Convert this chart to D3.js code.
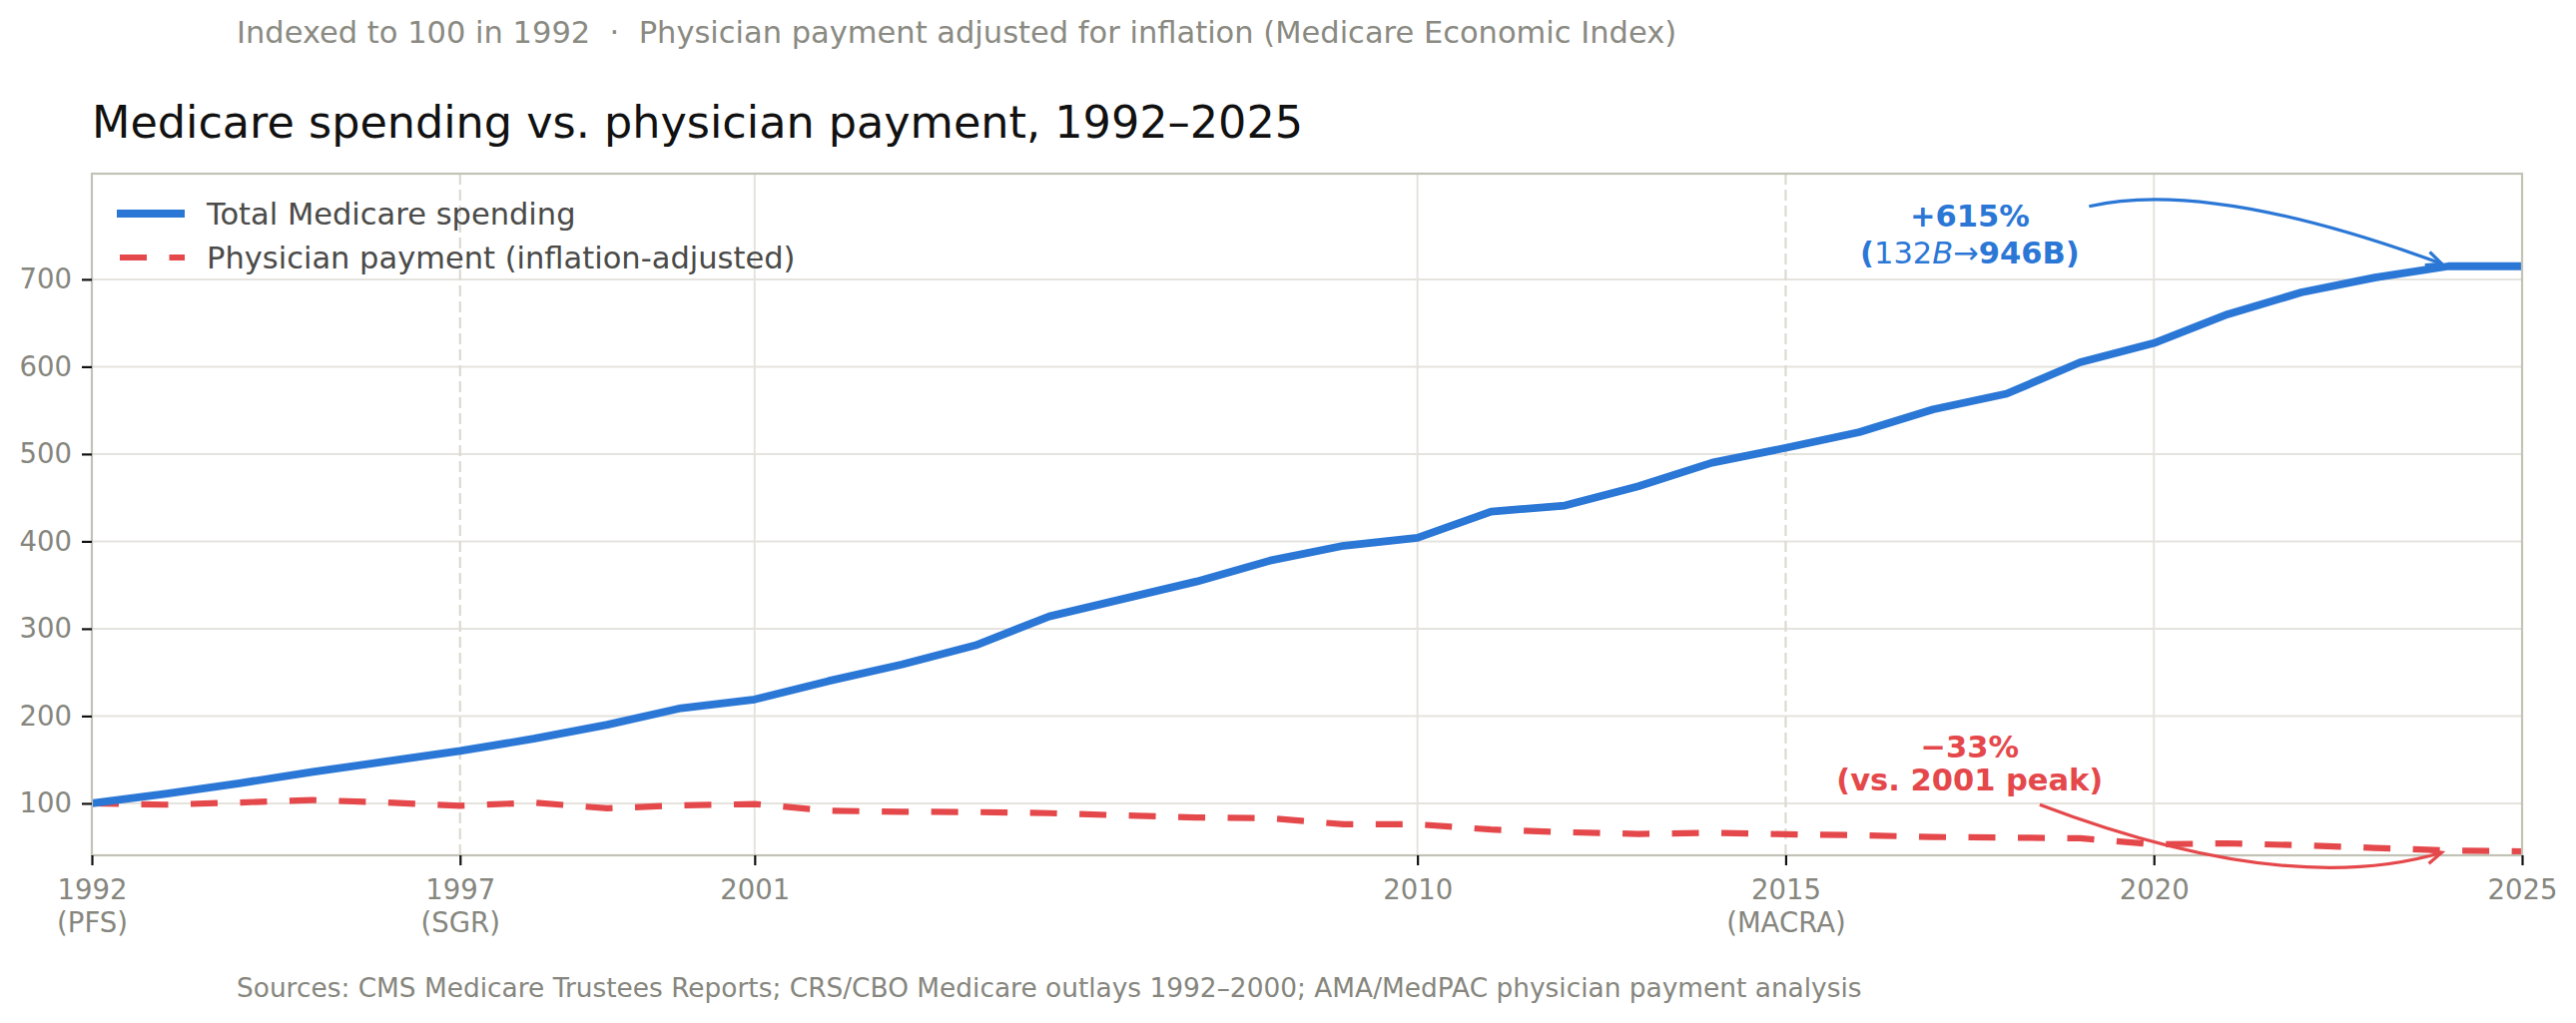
<!DOCTYPE html>
<html>
<head>
<meta charset="utf-8">
<script src="https://cdn.jsdelivr.net/npm/d3@7"></script>
<style>
  html, body { margin: 0; padding: 0; background: #ffffff; }
  svg { display: block; font-family: "DejaVu Sans", sans-serif; }
</style>
</head>
<body>
<svg id="chart" width="2580" height="1025"></svg>
<script>
// ---- Data ----
const years = d3.range(1992, 2026);
const totalSpending = [100, 111, 123, 136, 148, 160, 174, 190, 209, 219,
  240, 259, 281, 314, 334, 354, 378, 395, 404, 434,
  441, 463, 490, 507, 525, 551, 569, 605, 627, 660,
  685, 702, 715, 715];
const physicianPay = [100, 98.5, 101, 103.8, 101, 97.3, 100.8, 94.3, 97.7, 99.2,
  91.6, 90.4, 90, 88.8, 86.2, 83.8, 83, 76, 76, 70,
  67, 65, 66.2, 64.6, 63.5, 61.5, 60.8, 60, 53, 54.2,
  52, 49, 46, 45];
const seriesNames = ["Total Medicare spending", "Physician payment (inflation-adjusted)"];
const xTickYears = [1992, 1997, 2001, 2010, 2015, 2020, 2025];
const xTickNotes = ["(PFS)", "(SGR)", "", "", "(MACRA)", "", ""];
const policyYears = [1997, 2015];
const yTicks = [100, 200, 300, 400, 500, 600, 700];
const titleText = "Medicare spending vs. physician payment, 1992\u20132025";
const subtitleText = "Indexed to 100 in 1992  \u00b7  Physician payment adjusted for inflation (Medicare Economic Index)";
const sourceText = "Sources: CMS Medicare Trustees Reports; CRS/CBO Medicare outlays 1992\u20132000; AMA/MedPAC physician payment analysis";

// ---- Layout ----
const W = 2580, H = 1025;
const m = { left: 92, right: 2526, top: 174, bottom: 857 };
const BLUE = "#2b77d6", RED = "#e5484b";
const svg = d3.select("#chart");

const x = d3.scaleLinear().domain([1992, 2025]).range([m.left, m.right]);
const y = d3.scaleLinear().domain([40.5, 821]).range([m.bottom, m.top]);

// Grid
const grid = svg.append("g");
grid.selectAll("line.hg").data(yTicks).join("line")
  .attr("x1", m.left).attr("x2", m.right)
  .attr("y1", d => y(d)).attr("y2", d => y(d))
  .attr("stroke", "#e5e3dd").attr("stroke-width", 2);
grid.selectAll("line.vg").data(xTickYears.filter(d => !policyYears.includes(d))).join("line")
  .attr("x1", d => x(d)).attr("x2", d => x(d))
  .attr("y1", m.top).attr("y2", m.bottom)
  .attr("stroke", "#e5e3dd").attr("stroke-width", 2);
grid.selectAll("line.pol").data(policyYears).join("line")
  .attr("x1", d => x(d)).attr("x2", d => x(d))
  .attr("y1", m.top).attr("y2", m.bottom)
  .attr("stroke", "#dcdad0").attr("stroke-width", 2.2)
  .attr("stroke-dasharray", "11,5");

// Lines
const line = d3.line().x((d, i) => x(years[i])).y(d => y(d));
svg.append("path").datum(physicianPay)
  .attr("d", line).attr("fill", "none")
  .attr("stroke", RED).attr("stroke-width", 6.2)
  .attr("stroke-dasharray", "27,22.5");
svg.append("path").datum(totalSpending)
  .attr("d", line).attr("fill", "none")
  .attr("stroke", BLUE).attr("stroke-width", 7.8)
  .attr("stroke-linejoin", "round");

// Spines
svg.append("rect")
  .attr("x", m.left).attr("y", m.top)
  .attr("width", m.right - m.left).attr("height", m.bottom - m.top)
  .attr("fill", "none").attr("stroke", "#c2c2b6").attr("stroke-width", 2.2);

// Axes
const xAxis = svg.append("g").attr("transform", `translate(0,${m.bottom})`)
  .call(d3.axisBottom(x).tickValues(xTickYears).tickFormat(d3.format("d"))
    .tickSize(10).tickPadding(14));
xAxis.select(".domain").remove();
xAxis.selectAll(".tick line").attr("stroke", "#111").attr("stroke-width", 2.2);
xAxis.selectAll(".tick text")
  .attr("fill", "#86867e").attr("font-size", 27.5)
  .attr("font-family", "DejaVu Sans")
  .each(function(d, i) {
    const t = d3.select(this);
    const note = xTickNotes[xTickYears.indexOf(d)];
    t.text(null);
    t.append("tspan").attr("x", 0).attr("dy", "0.71em").text(d);
    if (note) t.append("tspan").attr("x", 0).attr("dy", "1.2em").text(note);
  })
  .attr("dy", null);

const yAxis = svg.append("g").attr("transform", `translate(${m.left},0)`)
  .call(d3.axisLeft(y).tickValues(yTicks).tickFormat(d3.format("d"))
    .tickSize(10).tickPadding(10));
yAxis.select(".domain").remove();
yAxis.selectAll(".tick line").attr("stroke", "#111").attr("stroke-width", 2.2);
yAxis.selectAll(".tick text")
  .attr("fill", "#86867e").attr("font-size", 27.5)
  .attr("font-family", "DejaVu Sans");

// Title & subtitle & source
svg.append("text").attr("x", 237).attr("y", 43)
  .attr("font-size", 30.5).attr("fill", "#8a8a82")
  .attr("xml:space", "preserve").style("white-space", "pre")
  .text(subtitleText);
svg.append("text").attr("x", 92).attr("y", 138)
  .attr("font-size", 44.5).attr("fill", "#111")
  .text(titleText);
svg.append("text").attr("x", 237).attr("y", 999)
  .attr("font-size", 26.4).attr("fill", "#86867e")
  .text(sourceText);

// Legend
const legend = svg.append("g");
const legRows = [214, 258];
legend.append("line").attr("x1", 117).attr("x2", 185)
  .attr("y1", legRows[0]).attr("y2", legRows[0])
  .attr("stroke", BLUE).attr("stroke-width", 7.8);
legend.append("line").attr("x1", 120).attr("x2", 185)
  .attr("y1", legRows[1]).attr("y2", legRows[1])
  .attr("stroke", RED).attr("stroke-width", 6.2)
  .attr("stroke-dasharray", "27,22.5");
legend.selectAll("text").data(seriesNames).join("text")
  .attr("x", 207).attr("y", (d, i) => legRows[i])
  .attr("dy", "0.36em")
  .attr("font-size", 30.5).attr("fill", "#4a4a48")
  .text(d => d);

// Annotations
function arrow(g, p0, c, target, color, shrink) {
  const dx = target[0] - c[0], dy = target[1] - c[1];
  const len = Math.hypot(dx, dy);
  const ux = dx / len, uy = dy / len;
  const end = [target[0] - ux * shrink, target[1] - uy * shrink];
  const p = d3.path();
  p.moveTo(p0[0], p0[1]);
  p.quadraticCurveTo(c[0], c[1], end[0], end[1]);
  g.append("path").attr("d", p.toString()).attr("fill", "none")
    .attr("stroke", color).attr("stroke-width", 3.2);
  const ang = Math.atan2(end[1] - c[1], end[0] - c[0]);
  const hl = 17, ha = 0.42;
  const h = d3.path();
  h.moveTo(end[0] - hl * Math.cos(ang - ha), end[1] - hl * Math.sin(ang - ha));
  h.lineTo(end[0], end[1]);
  h.lineTo(end[0] - hl * Math.cos(ang + ha), end[1] - hl * Math.sin(ang + ha));
  g.append("path").attr("d", h.toString()).attr("fill", "none")
    .attr("stroke", color).attr("stroke-width", 3.2).attr("stroke-linejoin", "miter");
}
const ann = svg.append("g");
const idx2024 = years.indexOf(2024);
// Blue annotation
const bT = [x(2024), y(totalSpending[idx2024])];
arrow(ann, [x(2019.12), bT[1] - 60], [x(2020.75), bT[1] - 88], bT, BLUE, 7);
const tb = ann.append("text").attr("text-anchor", "middle")
  .attr("font-size", 30.5).attr("fill", BLUE);
tb.append("tspan").attr("x", x(2017.5)).attr("y", 227).attr("font-weight", "bold").text("+615%");
const l2 = ann.append("text").attr("text-anchor", "middle")
  .attr("x", x(2017.5)).attr("y", 264)
  .attr("font-size", 30.5).attr("fill", BLUE);
l2.append("tspan").attr("font-weight", "bold").text("(");
l2.append("tspan").text("132");
l2.append("tspan").attr("font-style", "italic").text("B");
l2.append("tspan").text("\u2192");
l2.append("tspan").attr("font-weight", "bold").text("946B)");

// Red annotation
const rT = [x(2024), y(physicianPay[idx2024])];
arrow(ann, [x(2018.45), rT[1] - 46], [x(2021.8), rT[1] + 48], rT, RED, 7);
const tr = ann.append("text").attr("text-anchor", "middle")
  .attr("font-size", 30.5).attr("fill", RED).attr("font-weight", "bold");
tr.append("tspan").attr("x", x(2017.5)).attr("y", 759).text("\u221233%");
tr.append("tspan").attr("x", x(2017.5)).attr("y", 792).text("(vs. 2001 peak)");
</script>
</body>
</html>
